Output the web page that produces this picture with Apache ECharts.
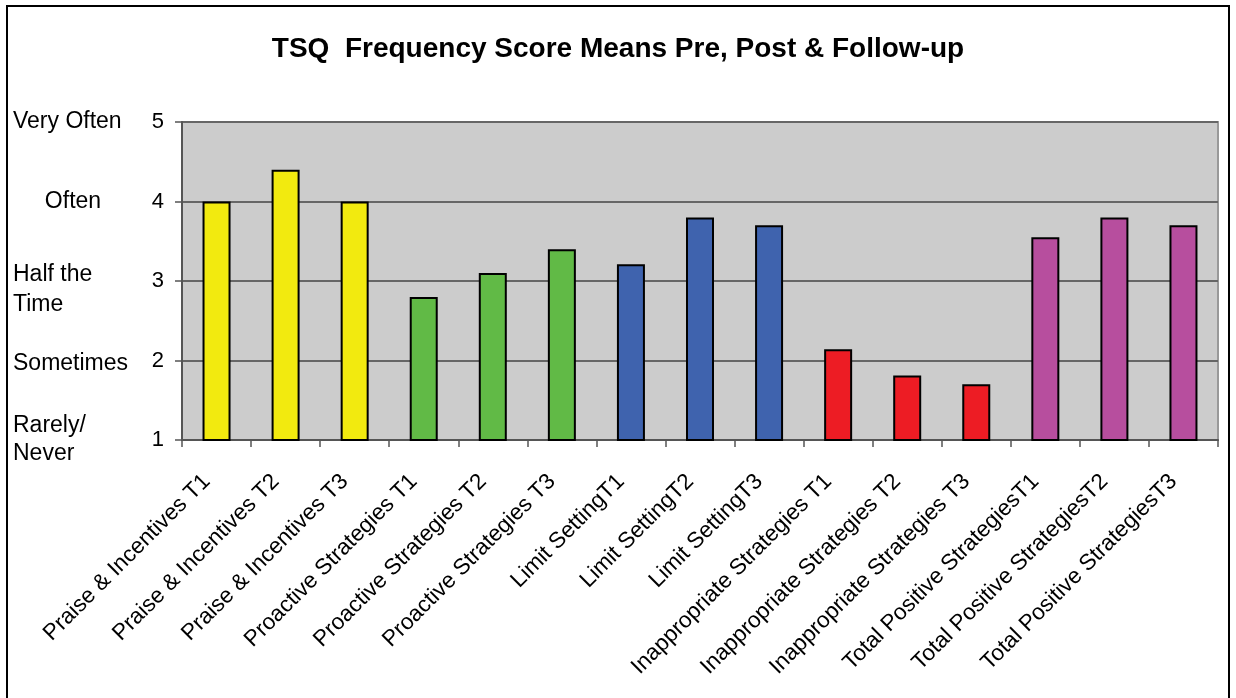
<!DOCTYPE html>
<html>
<head>
<meta charset="utf-8">
<script src="https://cdn.jsdelivr.net/npm/echarts@6/dist/echarts.min.js"></script>
<style>
  html, body { margin: 0; padding: 0; background: #fff; }
  #main { width: 1236px; height: 698px; }
</style>
</head>
<body>
<div id="main"></div>
<script>
// 类别
var categories = [
    'Praise & Incentives T1', 'Praise & Incentives T2', 'Praise & Incentives T3',
    'Proactive Strategies T1', 'Proactive Strategies T2', 'Proactive Strategies T3',
    'Limit SettingT1', 'Limit SettingT2', 'Limit SettingT3',
    'Inappropriate Strategies T1', 'Inappropriate Strategies T2', 'Inappropriate Strategies T3',
    'Total Positive StrategiesT1', 'Total Positive StrategiesT2', 'Total Positive StrategiesT3'
];

// 均值
var scoreMeans = [4.0, 4.4, 4.0, 2.8, 3.1, 3.4, 3.21, 3.8, 3.7, 2.14, 1.81, 1.7, 3.55, 3.8, 3.7];

// y轴刻度 1..5 对应的文字
var levelNames = ['Rarely/\nNever', 'Sometimes', 'Half the\nTime', 'Often', 'Very Often'];

// 每组三根柱子的颜色
var groupColors = ['#F2EA0F', '#61BA46', '#3F63AE', '#ED1C24', '#B74E9E'];

var chart = echarts.init(document.getElementById('main'));

var barData = scoreMeans.map(function (v, i) {
    return {
        value: v,
        itemStyle: { color: groupColors[Math.floor(i / 3)] }
    };
});

// 左侧文字的 rich 样式
var nameStyle = {
    c: { width: 120, align: 'center', fontSize: 23, color: '#000' },
    h: { fontSize: 23, lineHeight: 30, color: '#000', padding: [18, 0, 0, 0] },
    s: { fontSize: 23, color: '#000', padding: [6, 0, 0, 0] }
};

var option = {
    animation: false,
    textStyle: { fontFamily: 'Liberation Sans, Arial, sans-serif' },
    title: {
        text: 'TSQ  Frequency Score Means Pre, Post & Follow-up',
        left: 'center',
        top: 30,
        textStyle: { fontSize: 28, fontWeight: 'bold', color: '#000', fontFamily: 'Liberation Sans, Arial, sans-serif' }
    },
    graphic: [
        {
            type: 'rect',
            shape: { x: 7, y: 6, width: 1222, height: 720 },
            style: { fill: 'none', stroke: '#000', lineWidth: 2 },
            silent: true
        }
    ],
    grid: {
        left: 182,
        right: 18,
        top: 122,
        bottom: 258,
        show: true,
        backgroundColor: '#CCCCCC',
        borderColor: '#999',
        borderWidth: 2
    },
    xAxis: {
        type: 'category',
        data: categories,
        axisLine: { lineStyle: { color: '#555', width: 2 } },
        axisTick: { show: true, length: 7, lineStyle: { color: '#555', width: 1.5 } },
        axisLabel: {
            interval: 0,
            rotate: 45,
            margin: 28,
            padding: [0, 14, 0, 0],
            fontSize: 22.5,
            color: '#000'
        }
    },
    yAxis: [
        {
            type: 'value',
            min: 1,
            max: 5,
            interval: 1,
            axisLine: { show: true, lineStyle: { color: '#555', width: 2 } },
            axisTick: { show: true, length: 7, lineStyle: { color: '#555', width: 1.5 } },
            splitLine: { lineStyle: { color: '#666', width: 2 } },
            axisLabel: { fontSize: 22, color: '#000', margin: 18 }
        },
        {
            type: 'value',
            min: 1,
            max: 5,
            interval: 1,
            position: 'left',
            axisLine: { show: false },
            axisTick: { show: false },
            splitLine: { show: false },
            axisLabel: {
                margin: 169,
                align: 'left',
                fontSize: 23,
                lineHeight: 28,
                color: '#000',
                formatter: function (v) {
                    var name = levelNames[v - 1];
                    if (v === 4) return '{c|' + name + '}';
                    if (v === 3) return name.split('\n').map(function (t) { return '{h|' + t + '}'; }).join('\n');
                    if (v === 2) return '{s|' + name + '}';
                    return name;
                },
                rich: nameStyle
            }
        }
    ],
    series: [
        {
            type: 'bar',
            data: barData,
            barWidth: 28,
            itemStyle: { borderColor: '#000', borderWidth: 2 }
        }
    ]
};

chart.setOption(option);
</script>
</body>
</html>
